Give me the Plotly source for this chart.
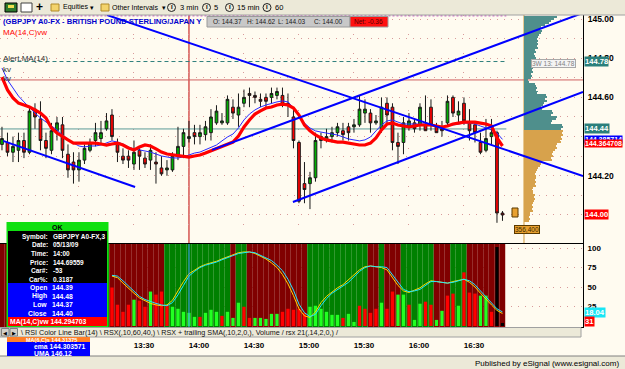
import plotly.graph_objects as go

W, H = 625, 369


def fx(x):
    return x / W


def fy(y):
    return 1 - y / H


# ---------------------------------------------------------------- data
# 3-minute bars, bar index 0 = 13:30 (GBPJPY, 05/13/09)
bar_index = list(range(-24, 68))
opens = [144.36, 144.37, 144.32, 144.33, 144.38, 144.32, 144.54, 144.49, 144.38, 144.33,
         144.43, 144.46, 144.31, 144.27, 144.23, 144.28, 144.33, 144.38, 144.39, 144.44,
         144.51, 144.37, 144.30, 144.30, 144.26, 144.33, 144.29, 144.28, 144.27, 144.24,
         144.23, 144.23, 144.30, 144.35, 144.39, 144.42, 144.40, 144.41, 144.42, 144.47,
         144.47, 144.47, 144.55, 144.51, 144.57, 144.62, 144.61, 144.59, 144.60, 144.60,
         144.61, 144.61, 144.57, 144.50, 144.37, 144.16, 144.16, 144.19, 144.40, 144.38,
         144.40, 144.42, 144.43, 144.45, 144.45, 144.46, 144.52, 144.52, 144.47, 144.44,
         144.57, 144.55, 144.37, 144.37, 144.45, 144.47, 144.46, 144.46, 144.55, 144.45,
         144.44, 144.47, 144.60, 144.51, 144.57, 144.47, 144.46, 144.37, 144.33, 144.40,
         144.42, 144.01]
highs = [144.45, 144.42, 144.40, 144.42, 144.42, 144.55, 144.57, 144.58, 144.42, 144.47,
         144.50, 144.50, 144.36, 144.32, 144.32, 144.36, 144.39, 144.47, 144.48, 144.52,
         144.54, 144.39, 144.34, 144.33, 144.38, 144.34, 144.32, 144.36, 144.32, 144.30,
         144.28, 144.32, 144.45, 144.44, 144.48, 144.46, 144.46, 144.48, 144.54, 144.56,
         144.52, 144.61, 144.59, 144.62, 144.64, 144.65, 144.63, 144.62, 144.62, 144.65,
         144.65, 144.65, 144.62, 144.55, 144.38, 144.27, 144.22, 144.42, 144.42, 144.44,
         144.45, 144.47, 144.47, 144.47, 144.49, 144.61, 144.59, 144.54, 144.51, 144.60,
         144.60, 144.57, 144.42, 144.50, 144.52, 144.49, 144.57, 144.61, 144.59, 144.47,
         144.48, 144.61, 144.61, 144.58, 144.60, 144.54, 144.47, 144.42, 144.49, 144.49,
         144.43, 144.02]
lows = [144.33, 144.30, 144.27, 144.27, 144.29, 144.31, 144.44, 144.33, 144.29, 144.31,
        144.38, 144.29, 144.19, 144.16, 144.17, 144.26, 144.32, 144.35, 144.36, 144.43,
        144.38, 144.27, 144.26, 144.24, 144.23, 144.23, 144.24, 144.23, 144.16, 144.20,
        144.20, 144.22, 144.28, 144.29, 144.37, 144.36, 144.36, 144.38, 144.38, 144.46,
        144.46, 144.46, 144.49, 144.45, 144.55, 144.55, 144.57, 144.55, 144.55, 144.57,
        144.59, 144.55, 144.50, 144.34, 144.06, 144.06, 144.03, 144.17, 144.34, 144.37,
        144.37, 144.40, 144.38, 144.38, 144.42, 144.45, 144.47, 144.42, 144.46, 144.42,
        144.46, 144.33, 144.26, 144.31, 144.43, 144.42, 144.43, 144.43, 144.43, 144.42,
        144.40, 144.45, 144.50, 144.47, 144.46, 144.38, 144.37, 144.31, 144.32, 144.36,
        143.96, 143.97]
closes = [144.39, 144.32, 144.35, 144.38, 144.32, 144.53, 144.50, 144.38, 144.34, 144.43,
          144.47, 144.33, 144.23, 144.23, 144.28, 144.34, 144.37, 144.42, 144.42, 144.48,
          144.40, 144.32, 144.28, 144.28, 144.32, 144.30, 144.26, 144.33, 144.26, 144.21,
          144.24, 144.30, 144.35, 144.42, 144.40, 144.40, 144.42, 144.45, 144.50, 144.53,
          144.48, 144.59, 144.52, 144.55, 144.60, 144.61, 144.60, 144.58, 144.58, 144.62,
          144.63, 144.56, 144.56, 144.38, 144.07, 144.13, 144.19, 144.38, 144.38, 144.40,
          144.42, 144.45, 144.41, 144.42, 144.46, 144.54, 144.54, 144.47, 144.48, 144.55,
          144.51, 144.37, 144.35, 144.47, 144.48, 144.44, 144.55, 144.43, 144.46, 144.42,
          144.43, 144.58, 144.52, 144.53, 144.48, 144.43, 144.42, 144.32, 144.39, 144.42,
          144.01, 144.00]

ma14_vw = [144.704, 144.638, 144.597, 144.571, 144.561, 144.551, 144.536, 144.520, 144.495, 144.444,
           144.418, 144.398, 144.383, 144.367, 144.367, 144.367, 144.367, 144.367, 144.362, 144.357,
           144.362, 144.367, 144.357, 144.342, 144.332, 144.347, 144.357, 144.352, 144.337, 144.321,
           144.311, 144.306, 144.301, 144.296, 144.295, 144.301, 144.306, 144.316, 144.327, 144.337,
           144.347, 144.357, 144.372, 144.403, 144.449, 144.485, 144.515, 144.531, 144.546, 144.551,
           144.561, 144.566, 144.561, 144.546, 144.510, 144.459, 144.429, 144.408, 144.393, 144.383,
           144.378, 144.372, 144.372, 144.367, 144.362, 144.357, 144.357, 144.367, 144.393, 144.434,
           144.464, 144.469, 144.459, 144.454, 144.449, 144.454, 144.459, 144.459, 144.459, 144.454,
           144.449, 144.454, 144.464, 144.469, 144.474, 144.474, 144.474, 144.469, 144.464, 144.454,
           144.393, 144.352]
ma_fast = [144.750, 144.689, 144.648, 144.607, 144.577, 144.546, 144.520, 144.495, 144.474, 144.454,
           144.434, 144.408, 144.388, 144.367, 144.352, 144.347, 144.352, 144.352, 144.357, 144.367,
           144.378, 144.372, 144.362, 144.347, 144.337, 144.332, 144.327, 144.321, 144.311, 144.301,
           144.296, 144.291, 144.291, 144.296, 144.306, 144.316, 144.321, 144.332, 144.342, 144.357,
           144.378, 144.398, 144.413, 144.444, 144.485, 144.515, 144.536, 144.551, 144.561, 144.571,
           144.577, 144.582, 144.577, 144.546, 144.505, 144.469, 144.444, 144.429, 144.423, 144.418,
           144.413, 144.408, 144.398, 144.388, 144.383, 144.378, 144.383, 144.398, 144.429, 144.459,
           144.480, 144.485, 144.474, 144.464, 144.464, 144.464, 144.464, 144.464, 144.459, 144.454,
           144.449, 144.454, 144.459, 144.464, 144.469, 144.469, 144.464, 144.454, 144.444, 144.434,
           144.418, 144.385714]

# hand-drawn trend lines: (bar index, price) end points
trend_left = ([-23.8, 0.2], [144.378, 144.143])
trend_down = ([-4.9, 81.64], [145.020, 144.199])
trend_up_hi = ([14.2, 81.64], [144.332, 145.031])
trend_up_lo = ([28.9, 81.64], [144.066, 144.628])

alert_level = 144.783
red_level = 144.689
teal_level = 144.439
cursor_bar = 10

# volume by price (right-hand profile), 145.01 down to 143.97
profile_price = [round(145.01 - 0.01 * i, 2) for i in range(105)]
profile_vol = [33, 30, 27, 25, 21, 17, 16, 18, 17, 15, 14, 13, 14, 13, 14, 13, 14, 11, 12, 10,
               11, 12, 11, 12, 9, 8, 9, 8, 9, 7, 8, 7, 4, 5, 11, 12, 13, 12, 14, 13,
               22, 23, 21, 23, 20, 19, 17, 18, 28, 29, 27, 33, 32, 28, 27, 38, 39, 37, 39, 38,
               39, 37, 38, 36, 37, 33, 32, 33, 31, 29, 28, 29, 27, 28, 18, 17, 16, 14, 13, 12,
               11, 12, 12, 11, 12, 11, 12, 9, 8, 9, 9, 11, 10, 11, 10, 9, 8, 9, 8, 9,
               6, 6, 5, 6, 5]

# lower pane
band_color = (["r"] * 19 + ["g"] + ["r"] * 10 + ["g"] * 12 + ["r"] + ["g"] * 2 + ["r"] * 11 +
              ["g"] * 11 + ["r"] * 2 + ["g"] + ["r"] * 3 + ["g"] * 6 + ["r"] * 3 + ["g"] * 3 + ["r"] * 7)
lower_index = list(range(-4, 68))
volumes = [38, 21, 14, 21, 26, 25, 19, 34, 31, 34, 21, 19, 17, 14, 13, 9, 9, 13, 16, 14,
           10, 14, 8, 23, 19, 8, 8, 8, 7, 12, 12, 14, 17, 16, 17, 13, 19, 20, 17, 14,
           11, 11, 8, 12, 4, 20, 17, 13, 17, 23, 17, 34, 31, 31, 21, 6, 22, 24, 21, 6,
           15, 30, 32, 20, 53, 33, 32, 30, 30, 14, 78, 3]
vol_dir = list("ddddudduddduuuuuduuuduuudduuuuuddddduuuuuuduuddddudduuduudduudduddduud")
rsx_cyan = [65, 64, 58, 51, 45, 38, 34, 31, 29, 27, 26, 30, 40, 52, 64, 70, 75, 78, 80, 82,
            85, 88, 91, 93, 94, 95, 94, 91, 88, 84, 78, 71, 60, 46, 28, 17, 12, 15, 26, 35,
            42, 47, 51, 56, 63, 70, 75, 77, 76, 76, 75, 66, 57, 47, 44, 45, 47, 52, 57, 57,
            56, 55, 56, 58, 60, 58, 53, 45, 37, 30, 22, 18.04]
rsx_yellow = [64, 62, 55, 48, 42, 36, 32, 29, 27, 26, 27, 33, 45, 57, 67, 72, 76, 79, 81, 83,
              86, 89, 92, 94, 95, 95, 93, 90, 86, 81, 75, 66, 54, 39, 22, 13, 11, 18, 30, 38,
              44, 49, 53, 59, 66, 72, 76, 77, 76, 75, 72, 62, 52, 45, 43, 46, 49, 54, 58, 57,
              56, 55, 57, 59, 60, 56, 50, 42, 34, 27, 20, 16]

tick_bars = [-20, -10, 0, 10, 20, 30, 40, 50, 60]
tick_times = ["", "", "13:30", "14:00", "14:30", "15:00", "15:30", "16:00", "16:30"]
price_ticks = [144.0, 144.1, 144.2, 144.3, 144.4, 144.5, 144.6, 144.7, 144.8, 144.9, 145.0]
price_text = ["", "", "144.20", "", "", "", "144.60", "", "144.80", "", "145.00"]

# ---------------------------------------------------------------- style
CREAM = "#fffbf0"
GRID = "#d89a9a"
FONT = "Arial"
TEAL = "#4f8f8c"
TAN = "#d7a24c"
PROFILE_BASE = 70.91      # bar-index where the profile starts
PROFILE_SCALE = 1 / 5.5   # bars per volume unit

fig = go.Figure()

fig.add_trace(go.Bar(
    orientation="h", y=profile_price, x=[v * PROFILE_SCALE for v in profile_vol], base=PROFILE_BASE,
    width=0.005, marker=dict(color=[TEAL if p >= 144.435 else TAN for p in profile_price], line_width=0),
    xaxis="x", yaxis="y", hoverinfo="skip", showlegend=False))

fig.add_trace(go.Candlestick(
    x=bar_index, open=opens, high=highs, low=lows, close=closes,
    increasing=dict(line=dict(color="#1a1a1a", width=1), fillcolor="#00b000"),
    decreasing=dict(line=dict(color="#1a1a1a", width=1), fillcolor="#ff0000"),
    whiskerwidth=0, xaxis="x", yaxis="y", hoverinfo="skip", showlegend=False))

fig.add_trace(go.Scatter(x=bar_index, y=ma_fast, mode="lines", line=dict(color="#2a2aff", width=1),
                         xaxis="x", yaxis="y", hoverinfo="skip", showlegend=False))
fig.add_trace(go.Scatter(x=bar_index, y=ma14_vw, mode="lines", line=dict(color="#ff0000", width=3.2),
                         xaxis="x", yaxis="y", hoverinfo="skip", showlegend=False))
for tl in (trend_left, trend_down, trend_up_hi, trend_up_lo):
    fig.add_trace(go.Scatter(x=tl[0], y=tl[1], mode="lines", line=dict(color="#0000ff", width=2),
                             xaxis="x", yaxis="y", hoverinfo="skip", showlegend=False))

# lower pane
fig.add_trace(go.Bar(x=bar_index, y=[1] * len(bar_index), width=1,
                     marker=dict(color=["#008000" if c == "g" else "#800000" for c in band_color], line_width=0),
                     xaxis="x2", yaxis="y3", hoverinfo="skip", showlegend=False))
fig.add_trace(go.Bar(x=lower_index, y=volumes, width=0.6,
                     marker=dict(color=["#22ff22" if d == "u" else "#ff0000" for d in vol_dir], line_width=0),
                     xaxis="x2", yaxis="y4", hoverinfo="skip", showlegend=False))
fig.add_trace(go.Scatter(x=lower_index, y=rsx_yellow, mode="lines", line=dict(color="#ffd800", width=1),
                         xaxis="x2", yaxis="y5", hoverinfo="skip", showlegend=False))
fig.add_trace(go.Scatter(x=lower_index, y=rsx_cyan, mode="lines", line=dict(color="#22e8ff", width=1),
                         xaxis="x2", yaxis="y5", hoverinfo="skip", showlegend=False))

# ---------------------------------------------------------------- decorations
shapes, annos = [], []


def rect(x0, y0, x1, y1, fill, line=None, lw=0, layer="above"):
    shapes.append(dict(type="rect", xref="paper", yref="paper", x0=fx(x0), x1=fx(x1), y0=fy(y1), y1=fy(y0),
                       fillcolor=fill, line=dict(color=line or fill, width=lw), layer=layer))


def text(x, y, s, size=8, color="black", anchor="left", bold=False, family=FONT, bg=None, border=None):
    a = dict(xref="paper", yref="paper", x=fx(x), y=fy(y), text=s, showarrow=False, xanchor=anchor,
             yanchor="middle", font=dict(size=size, color=color, family=family,
                                         weight="bold" if bold else "normal"), borderpad=0)
    if bg:
        a["bgcolor"] = bg
    if border:
        a["bordercolor"] = border
        a["borderwidth"] = 1
    annos.append(a)


XMAX = 67.7
# level lines
shapes.append(dict(type="line", xref="x", yref="y", x0=-25, x1=XMAX, y0=alert_level, y1=alert_level,
                   line=dict(color="#2f7f7c", width=1, dash="4px,3px"), layer="between"))
shapes.append(dict(type="line", xref="x", yref="y", x0=-25, x1=82, y0=red_level, y1=red_level,
                   line=dict(color="#d06060", width=1), layer="between"))
shapes.append(dict(type="line", xref="x", yref="y", x0=-25, x1=XMAX, y0=teal_level, y1=teal_level,
                   line=dict(color="#5c9c98", width=1), layer="between"))
shapes.append(dict(type="line", xref="x", yref="y", x0=-25, x1=XMAX, y0=145.016, y1=145.016,
                   line=dict(color="#c040c0", width=1, dash="2px,2px"), layer="between"))
shapes.append(dict(type="line", xref="x", yref="paper", x0=PROFILE_BASE, x1=PROFILE_BASE, y0=fy(243), y1=fy(15),
                   line=dict(color="#d39a3a", width=1), layer="between"))
shapes.append(dict(type="line", xref="x", yref="paper", x0=cursor_bar, x1=cursor_bar, y0=fy(243), y1=fy(15),
                   line=dict(color="#c00000", width=1), layer="between"))
shapes.append(dict(type="line", xref="x2", yref="paper", x0=cursor_bar, x1=cursor_bar, y0=fy(327), y1=fy(244),
                   line=dict(color="#3fa0ff", width=1), layer="above"))

# toolbar
rect(0, 0, 625, 15, "#ece9d8", layer="above")
shapes.append(dict(type="line", xref="paper", yref="paper", x0=0, x1=1, y0=fy(15), y1=fy(15),
                   line=dict(color="#a0a0a0", width=1), layer="above"))
rect(5, 3, 17, 12, "#2d7a2d", line="#000000", lw=1)
rect(8, 5, 14, 8, "#f0e050")
rect(21, 3, 32, 12, "#ffffff", line="#404040", lw=1)
rect(51, 4, 59, 11, "#f3d36a", line="#b08a28", lw=1)
rect(101, 4, 109, 11, "#f3d36a", line="#b08a28", lw=1)
for cx in (171.5, 206.5, 229.5, 267):
    shapes.append(dict(type="circle", xref="paper", yref="paper", x0=fx(cx - 4), x1=fx(cx + 4),
                       y0=fy(11.5), y1=fy(3.5), line=dict(color="#202020", width=1), layer="above"))
    text(cx, 7.5, "I", size=6, anchor="center", bold=True)
text(39.5, 7.5, "+", size=12, anchor="center", bold=True)
text(62, 7.5, "Equities", size=7)
text(92, 7.5, "▾", size=7, anchor="center")
text(111, 7.5, "Other Intervals", size=7)
text(164, 7.5, "▾", size=7, anchor="center")
text(179, 7.5, "3 min", size=7.5)
text(213, 7.5, "5", size=7.5)
text(236, 7.5, "15 min", size=7.5)
text(274, 7.5, "60", size=7.5)

# header row
text(2, 22, "(GBPJPY A0-FX - BRITISH POUND STERLING/JAPAN Y", size=7.6, color="#0000cc", bold=True)
rect(207, 16.5, 350, 27, "#c8c8c8", line="#9a9a9a", lw=1)
rect(350, 16.5, 388, 27, "#ff1010", line="#9a9a9a", lw=1)
text(212, 22, "O: 144.37", size=6.5, color="#202020")
text(246, 22, "H: 144.62", size=6.5, color="#202020")
text(277, 22, "L: 144.03", size=6.5, color="#202020")
text(313, 22, "C: 144.00", size=6.5, color="#202020")
text(353, 22, "Net: -0.36", size=6.5, color="#500000")
text(2, 32, "MA(14,C)vw", size=8, color="#ff0000")
text(2, 58.5, "Alert.MA(14)", size=8, color="#303030")
text(2, 69, "kv", size=8, color="#303030")
text(2, 79, "kv", size=8, color="#303030")


# right axis value boxes
def vbox(val, s, bg, yref="y", size=7.6):
    annos.append(dict(xref="paper", yref=yref, x=fx(583.5), y=val, text=s, showarrow=False, xanchor="left",
                      yanchor="middle", bgcolor=bg, borderpad=0,
                      font=dict(size=size, color="white", family=FONT, weight="bold")))


vbox(alert_level, "144.78", "#2a7f7b")
vbox(teal_level, "144.44", "#2a7f7b")
vbox(144.385714, "144.385714", "#0000ff", size=7)
vbox(144.364708, "144.364708", "#ff0000", size=7)
vbox(144.00, "144.00", "#ff0000")
vbox(17.0, "18.04", "#19e6f5", yref="y5")
vbox(5.5, "31", "#ff0000", yref="y5")
text(531, 63, "3W 13: 144.78", size=6.5, color="#808080", bg="#f4f4f4", border="#a8a8a8")
rect(512, 208, 518, 217, "#e8a030", line="#5a3a00", lw=1)
text(527, 230, "356,400", size=6.5, color="#3a2a00", anchor="center", bg="#e8a030", border="#5a3a00")

# tab strip
rect(0, 327.5, 581, 337, "#ece9d8", line="#a0a0a0", lw=1)
rect(1.5, 328.5, 9, 336, "#d4d0c8", line="#808080", lw=1)
rect(10, 328.5, 17.5, 336, "#d4d0c8", line="#808080", lw=1)
text(5.2, 332.5, "◀", size=5, anchor="center")
text(13.8, 332.5, "▶", size=5, anchor="center")
text(20, 332.5, "\\ RSI Color Line Bar(14) \\ RSX(,10,60,40,) \\ RSX + trailing SMA(,10,2,0,), Volume / "
     "rsx 21(,14,2,0,) /", size=7.2, color="#101010")

# status bar
rect(0, 356, 625, 369, "#ece9d8", layer="above")
shapes.append(dict(type="line", xref="paper", yref="paper", x0=0, x1=1, y0=fy(356), y1=fy(356),
                   line=dict(color="#808080", width=1), layer="above"))
text(620, 363, "Published by eSignal (www.esignal.com)", size=8, anchor="right")

# data window overlay
rect(6.5, 222, 108.5, 327, "#10e010")
rect(8, 231, 107, 283, "#000000")
rect(8, 283, 107, 317, "#0000ff")
rect(8, 317, 107, 326, "#ff0000")
text(57, 227.5, "OK", size=7, anchor="center", bold=True)
rows_black = [("Symbol:", "GBPJPY A0-FX,3"), ("Date:", "05/13/09"), ("Time:", "14:00"),
              ("Price:", "144.69559"), ("Car#:", "-53"), ("Car%:", "0.3187")]
for i, (lab, val) in enumerate(rows_black):
    y = 236.5 + 8.5 * i
    text(49, y, lab, size=6.5, color="white", anchor="right", bold=True)
    text(52, y, val, size=6.5, color="white", bold=True)
rows_blue = [("Open", "144.39"), ("High", "144.48"), ("Low", "144.37"), ("Close", "144.40")]
for i, (lab, val) in enumerate(rows_blue):
    y = 287.5 + 8.5 * i
    text(48, y, lab, size=6.8, color="white", anchor="right", bold=True)
    text(51, y, val, size=6.8, color="white", bold=True)
text(9, 321.5, "MA(14,C)vw 144.294703", size=6.8, color="white", bold=True)
rect(7, 337, 90, 342, "#ff7f27")
rect(7, 342, 90, 356, "#0000ff")
text(25, 339.5, "MA(6,C)s 144.31375", size=5.5, color="white", bold=True)
text(33, 346.5, "ema 144.303571", size=6.8, color="white", bold=True)
text(33, 353, "UMA 146.12", size=6.8, color="white", bold=True)

# ---------------------------------------------------------------- layout
XR = [-24.36, 81.64]
XD = [0, 583 / W]
fig.update_layout(
    width=W, height=H, margin=dict(l=0, r=0, t=0, b=0),
    paper_bgcolor=CREAM, plot_bgcolor=CREAM, barmode="overlay", showlegend=False,
    font=dict(family=FONT, size=8, color="black"),
    xaxis=dict(domain=XD, range=XR, anchor="y", tickvals=tick_bars, showticklabels=False, ticks="",
               showgrid=True, gridcolor=GRID, griddash="1px,18px", zeroline=False,
               showline=True, linecolor="#000000", linewidth=1, rangeslider=dict(visible=False)),
    yaxis=dict(domain=[fy(243), fy(15)], range=[143.857, 145.0204], side="right", anchor="x",
               tickvals=price_ticks, ticktext=price_text, ticks="", ticklabelstandoff=2,
               tickfont=dict(size=8.5, family=FONT, weight="bold"),
               showgrid=True, gridcolor=GRID, griddash="1px,6px", zeroline=False,
               showline=True, linecolor="#000000", linewidth=1),
    xaxis2=dict(domain=XD, range=XR, anchor="y3", matches="x", tickvals=tick_bars, ticktext=tick_times,
                ticks="", ticklabelstandoff=10, ticklabelshift=10,
                tickfont=dict(size=8, family=FONT, weight="bold"),
                showgrid=True, gridcolor="#b07070", griddash="1px,18px", zeroline=False,
                showline=True, linecolor="#000000", linewidth=1, mirror=True),
    yaxis3=dict(domain=[fy(327), fy(244)], range=[0, 1], anchor="x2", visible=False),
    yaxis4=dict(overlaying="y3", range=[-1, 81], anchor="x2", visible=False),
    yaxis5=dict(overlaying="y3", range=[-1.3, 105.2], anchor="x2", side="right",
                tickvals=[25, 50, 75, 100], ticktext=["25", "50", "75", "100"], ticks="",
                ticklabelstandoff=2, tickfont=dict(size=8, family=FONT, weight="bold"),
                showgrid=True, gridcolor=GRID, griddash="1px,6px", zeroline=False,
                showline=True, linecolor="#000000", linewidth=1),
    shapes=shapes, annotations=annos,
)

fig.write_html("out.html")
